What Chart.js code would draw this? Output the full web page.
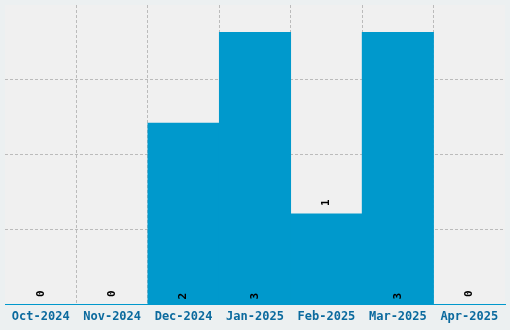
<!DOCTYPE html>
<html lang="en">
<head>
  <meta charset="UTF-8" />
  <title>Monthly count</title>
  <script src="https://cdn.jsdelivr.net/npm/chart.js"></script>
  <style>
    body { margin: 0; background-color: #ecf0f1; }
    .chart-box { width: 510px; height: 330px; }
  </style>
</head>
<body>

<div class="chart-box">
  <canvas id="monthChart"></canvas>
</div>

<script>
  // data
  const months = ['Oct-2024', 'Nov-2024', 'Dec-2024', 'Jan-2025', 'Feb-2025', 'Mar-2025', 'Apr-2025'];
  const counts = [0, 0, 2, 3, 1, 3, 0];
  const yMax = 3.3;
  const yTicks = [0, 0.825, 1.65, 2.475, 3.3];

  // light plot background behind the bars
  const plotBg = {
    id: 'plotBg',
    beforeDraw(chart) {
      const { ctx, chartArea: a } = chart;
      ctx.save();
      ctx.fillStyle = '#f0f0f0';
      ctx.fillRect(a.left, a.top, a.right - a.left, a.bottom - a.top);
      ctx.restore();
    }
  };

  // rotated value labels: tall bars get it at the base, short ones above the top
  const valueLabels = {
    id: 'valueLabels',
    afterDraw(chart) {
      const { ctx } = chart;
      const meta = chart.getDatasetMeta(0);
      ctx.save();
      ctx.font = 'bold 11px "DejaVu Sans Mono", monospace';
      ctx.fillStyle = '#000';
      ctx.textAlign = 'center';
      ctx.textBaseline = 'middle';
      meta.data.forEach((bar, i) => {
        const v = counts[i];
        const y = v >= 2 ? bar.base - 8 : bar.y - 11;
        ctx.save();
        ctx.translate(bar.x, y);
        ctx.rotate(-Math.PI / 2);
        ctx.fillText(String(v), 0, 0);
        ctx.restore();
      });
      ctx.restore();
    }
  };

  new Chart(document.getElementById('monthChart'), {
    type: 'bar',
    data: {
      labels: months,
      datasets: [{
        data: counts,
        backgroundColor: '#0099cc',
        barPercentage: 1,
        categoryPercentage: 1
      }]
    },
    options: {
      responsive: true,
      maintainAspectRatio: false,
      animation: false,
      layout: { padding: { left: 5, right: 5, top: 5, bottom: 1 } },
      plugins: { legend: { display: false }, tooltip: { enabled: false } },
      scales: {
        x: {
          z: 1,
          grid: {
            drawTicks: false,
            color: c => (c.index === undefined || c.index === 0) ? 'transparent' : 'rgba(0,0,0,0.22)'
          },
          border: { display: true, color: '#0099cc', width: 1, dash: [3, 2] },
          ticks: {
            padding: 5,
            color: '#0b6a9e',
            font: { family: '"DejaVu Sans Mono", monospace', size: 12, weight: 'bold' }
          }
        },
        y: {
          z: 1,
          min: 0,
          max: yMax,
          afterBuildTicks: s => { s.ticks = yTicks.map(v => ({ value: v })); },
          grid: {
            drawTicks: false,
            color: c => (c.tick && c.tick.value > 0 && c.tick.value < yMax) ? 'rgba(0,0,0,0.22)' : 'transparent'
          },
          border: { display: false, dash: [3, 2] },
          ticks: { display: false }
        }
      }
    },
    plugins: [plotBg, valueLabels]
  });
</script>
</body>
</html>
